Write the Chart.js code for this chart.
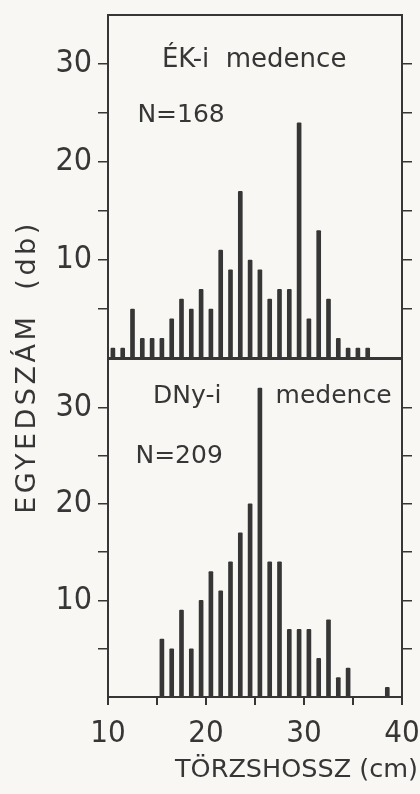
<!DOCTYPE html>
<html>
<head>
<meta charset="utf-8">
<script src="https://cdn.jsdelivr.net/npm/chart.js@4.4.1/dist/chart.umd.min.js"></script>
<style>
    html, body { margin: 0; padding: 0; background: #f8f7f3; }
    #wrap { position: relative; width: 420px; height: 794px; }
    canvas { position: absolute; left: 0; top: 0; }
</style>
</head>
<body>
<div id="wrap">
    <canvas id="lowerChart" width="420" height="794"></canvas>
    <canvas id="upperChart" width="420" height="372"></canvas>
</div>
<script>
// ÉK-i medence (upper panel), bin centres in cm and counts
const ekBins = [10.5, 11.5, 12.5, 13.5, 14.5, 15.5, 16.5, 17.5, 18.5, 19.5, 20.5, 21.5, 22.5, 23.5,
                24.5, 25.5, 26.5, 27.5, 28.5, 29.5, 30.5, 31.5, 32.5, 33.5, 34.5, 35.5, 36.5];
const ekCounts = [1, 1, 5, 2, 2, 2, 4, 6, 5, 7, 5, 11, 9, 17,
                  10, 9, 6, 7, 7, 24, 4, 13, 6, 2, 1, 1, 1];

// DNy-i medence (lower panel)
const dnyBins = [15.5, 16.5, 17.5, 18.5, 19.5, 20.5, 21.5, 22.5, 23.5, 24.5,
                 25.5, 26.5, 27.5, 28.5, 29.5, 30.5, 31.5, 32.5, 33.5, 34.5, 38.5];
const dnyCounts = [6, 5, 9, 5, 10, 13, 11, 14, 17, 20,
                   32, 14, 14, 7, 7, 7, 4, 8, 2, 3, 1];

const xTickLabels = [10, 20, 30, 40];
const yTickLabels = [10, 20, 30];

const ink = "#363636";
const numFont = "'Liberation Sans Narrow', 'DejaVu Sans Condensed', 'DejaVu Sans', sans-serif";
const textFont = "'DejaVu Sans', sans-serif";

// frame round the plot area
const framePlugin = {
    id: "frame",
    afterDatasetsDraw(chart) {
        const a = chart.chartArea;
        const ctx = chart.ctx;
        ctx.save();
        ctx.strokeStyle = ink;
        ctx.lineWidth = 2;
        ctx.strokeRect(a.left, a.top, a.right - a.left, a.bottom - a.top);
        ctx.restore();
    }
};

// panel captions, placed in data units
const captionPlugin = {
    id: "caption",
    beforeDatasetsDraw(chart, args, opts) {
        const ctx = chart.ctx;
        const xs = chart.scales.x, ys = chart.scales.y;
        ctx.save();
        ctx.fillStyle = ink;
        ctx.textBaseline = "alphabetic";
        ctx.textAlign = "left";
        (opts.items || []).forEach(it => {
            ctx.font = it.size + "px " + textFont;
            ctx.fillText(it.text, xs.getPixelForValue(it.x), ys.getPixelForValue(it.y));
        });
        ctx.restore();
    }
};

// axis titles for the whole figure
const axisTitlePlugin = {
    id: "axisTitles",
    afterDraw(chart) {
        const ctx = chart.ctx;
        ctx.save();
        ctx.fillStyle = ink;
        ctx.font = "25.5px " + textFont;
        ctx.textAlign = "right";
        ctx.textBaseline = "alphabetic";
        ctx.fillText("TÖRZSHOSSZ (cm)", 418, 777);

        ctx.translate(35, 367);
        ctx.rotate(-Math.PI / 2);
        ctx.textAlign = "center";
        ctx.font = "27px " + textFont;
        ctx.letterSpacing = "3.5px";
        ctx.fillText("EGYEDSZÁM  (db)", 0, 0);
        ctx.restore();
    }
};

function yTick(v) {
    if (v === 0 || v === 35) return null;
    return yTickLabels.includes(v) ? String(v) : "";
}

// fixed axis sizes, no extra label padding
function fixSize(w, h) {
    return s => {
        if (w !== null) s.width = w;
        if (h !== null) s.height = h;
        s.paddingTop = 0;
        s.paddingBottom = 0;
        s.paddingLeft = 0;
        s.paddingRight = 0;
    };
}

function makePanel(canvasId, bins, counts, captions, padTop, xHeight, showXTicks) {
    const ctx = document.getElementById(canvasId).getContext("2d");
    return new Chart(ctx, {
        type: "bar",
        data: {
            datasets: [{
                data: bins.map((b, i) => ({ x: b, y: counts[i] })),
                backgroundColor: ink,
                barThickness: 4,
                borderRadius: 1
            }]
        },
        options: {
            responsive: false,
            animation: false,
            devicePixelRatio: 1,
            layout: { padding: { top: padTop, bottom: 0, left: 0, right: 0 } },
            plugins: {
                legend: { display: false },
                tooltip: { enabled: false },
                caption: { items: captions }
            },
            scales: {
                x: {
                    type: "linear",
                    min: 10,
                    max: 40,
                    offset: false,
                    afterFit: fixSize(null, xHeight),
                    ticks: {
                        display: showXTicks,
                        stepSize: 5,
                        color: ink,
                        padding: 10,
                        maxRotation: 0,
                        font: { family: numFont, size: 31 },
                        callback: v => xTickLabels.includes(v) ? String(v) : ""
                    },
                    grid: {
                        display: showXTicks,
                        offset: false,
                        drawOnChartArea: false,
                        tickLength: 8,
                        color: ink,
                        lineWidth: 2
                    },
                    border: { display: false }
                },
                y: {
                    position: "left",
                    min: 0,
                    max: 35,
                    afterFit: fixSize(108, null),
                    ticks: {
                        stepSize: 5,
                        color: ink,
                        padding: 6,
                        font: { family: numFont, size: 32 },
                        callback: yTick
                    },
                    grid: { drawOnChartArea: false, tickLength: 10, color: ink, lineWidth: 1.5 },
                    border: { display: false }
                },
                yRight: {
                    position: "right",
                    min: 0,
                    max: 35,
                    afterFit: fixSize(18, null),
                    ticks: {
                        stepSize: 5,
                        callback: v => (v === 0 || v === 35) ? null : ""
                    },
                    grid: { drawOnChartArea: false, tickLength: 10, color: ink, lineWidth: 1.5 },
                    border: { display: false }
                }
            }
        },
        plugins: [framePlugin, captionPlugin].concat(showXTicks ? [axisTitlePlugin] : [])
    });
}

const lowerChart = makePanel("lowerChart", dnyBins, dnyCounts, [
    { text: "DNy-i", x: 14.6, y: 30.4, size: 25 },
    { text: "medence", x: 27.1, y: 30.4, size: 25 },
    { text: "N=209", x: 12.8, y: 24.2, size: 25 }
], 359, 97, true);

const upperChart = makePanel("upperChart", ekBins, ekCounts, [
    { text: "ÉK-i  medence", x: 15.5, y: 29.7, size: 26 },
    { text: "N=168", x: 13.0, y: 24.1, size: 25 }
], 15, 14, false);
</script>
</body>
</html>
